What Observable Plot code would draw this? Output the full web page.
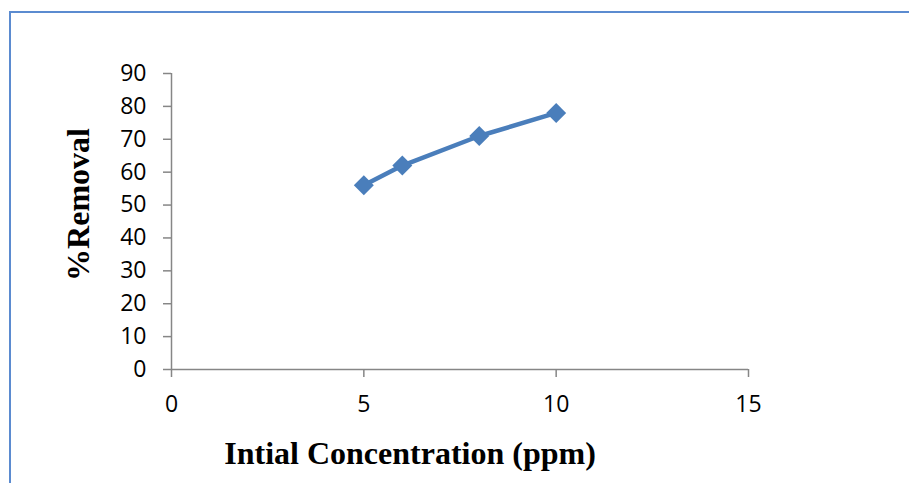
<!DOCTYPE html>
<html>
<head>
<meta charset="utf-8">
<script src="https://cdn.jsdelivr.net/npm/d3@7"></script>
<script src="https://cdn.jsdelivr.net/npm/@observablehq/plot@0.6"></script>
<style>
  html, body { margin: 0; padding: 0; background: #fff; overflow: hidden; }
  #wrap { position: relative; width: 909px; height: 483px; }
  #border { position: absolute; left: 9px; top: 11px; width: 920px; height: 500px; border: 2px solid #5b8bd0; box-sizing: border-box; pointer-events: none; }
  #chart { position: absolute; left: 0; top: 0; }
  #chart g[aria-label="x-axis tick label"] text,
  #chart g[aria-label="y-axis tick label"] text { font-size: 23px !important; font-family: 'Open Sans', sans-serif; }
</style>
</head>
<body>
<div id="wrap"><div id="chart"></div><div id="border"></div></div>
<script>
const concentration = [5, 6, 8, 10];
const removal = [56, 62, 71, 78];
const xTicks = [0, 5, 10, 15];
const yTicks = [0, 10, 20, 30, 40, 50, 60, 70, 80, 90];
const xTitle = "Intial Concentration (ppm)";
const yTitle = "%Removal";

const data = concentration.map((c, i) => ({c, r: removal[i]}));
const axisColor = "#868686";
const blue = "#4a7ebb";
const serif = "'Liberation Serif', 'Times New Roman', serif";

const chart = Plot.plot({
  width: 909,
  height: 483,
  marginLeft: 171,
  marginRight: 161,
  marginTop: 73,
  marginBottom: 114,
  style: {fontFamily: "'Open Sans', sans-serif", background: "transparent"},
  x: {domain: [0, 15]},
  y: {domain: [0, 90]},
  marks: [
    Plot.ruleY([0], {x1: 0, x2: 15, stroke: axisColor, strokeWidth: 1.5}),
    Plot.ruleX([0], {y1: 0, y2: 90, stroke: axisColor, strokeWidth: 1.5}),
    Plot.axisY({ticks: yTicks, tickSize: 8, tickPadding: 17, stroke: axisColor, strokeWidth: 1.5, fill: "#000", fontSize: 23, label: null, tickFormat: d => String(d)}),
    Plot.axisX({ticks: xTicks, tickSize: 8, tickPadding: 18, stroke: axisColor, strokeWidth: 1.5, fill: "#000", fontSize: 23, label: null, tickFormat: d => String(d)}),
    Plot.line(data, {x: "c", y: "r", stroke: blue, strokeWidth: 4.5}),
    Plot.dot(data, {x: "c", y: "r", symbol: "diamond2", r: 9, fill: blue, stroke: "none"}),
    Plot.text([xTitle], {frameAnchor: "bottom", lineAnchor: "middle", textAnchor: "middle", dy: 84, dx: -50, fontFamily: serif, fontWeight: "bold", fontSize: 32, fill: "#000"}),
    Plot.text([yTitle], {frameAnchor: "left", lineAnchor: "middle", textAnchor: "middle", dx: -93, dy: -17, rotate: -90, fontFamily: serif, fontWeight: "bold", fontSize: 32, fill: "#000"})
  ]
});
document.getElementById("chart").appendChild(chart);
</script>
</body>
</html>
